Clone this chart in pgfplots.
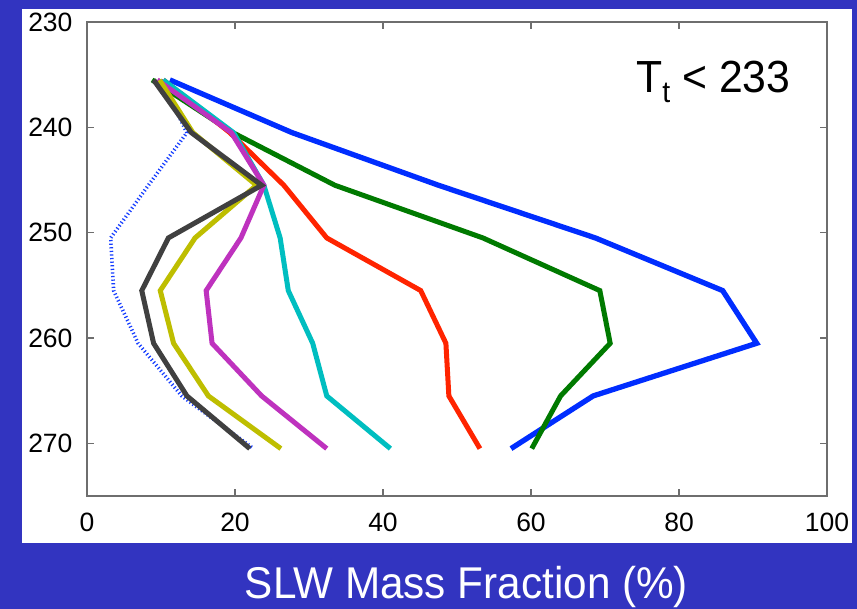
\documentclass[border=0pt]{standalone}
\usepackage{fontspec}
\setmainfont{Liberation Sans}
\newfontfamily\bigfont[FakeStretch=0.95]{Liberation Sans}
\usepackage{pgfplots}
\pgfplotsset{compat=1.18}
\definecolor{bgblue}{RGB}{50,52,192}
\definecolor{axisgray}{RGB}{110,110,110}
\definecolor{cblue}{RGB}{0,45,255}
\definecolor{cgreen}{RGB}{0,122,0}
\definecolor{cred}{RGB}{255,36,0}
\definecolor{ccyan}{RGB}{0,190,192}
\definecolor{cmag}{RGB}{190,50,190}
\definecolor{colive}{RGB}{190,190,0}
\definecolor{cdark}{RGB}{64,64,64}
\definecolor{cdot}{RGB}{20,60,255}
\begin{document}
\begin{tikzpicture}
\fill[bgblue] (0,0) rectangle (857pt,609pt);
\fill[white] (22pt,66pt) rectangle (852pt,600pt);
\useasboundingbox (0,0) rectangle (857pt,609pt);
\begin{axis}[
  at={(87pt,113pt)}, anchor=south west,
  width=740pt, height=474pt, scale only axis,
  xmin=0, xmax=100, ymin=230, ymax=275, y dir=reverse,
  xtick={0,20,40,60,80,100}, ytick={230,240,250,260,270},
  tick align=inside, major tick length=7pt,
  axis line style={draw=axisgray, line width=1.1pt},
  every tick/.style={draw=axisgray, line width=1.1pt},
  tick label style={font=\fontsize{26.5}{30}\selectfont, text=black},
  /pgf/number format/assume math mode=true,
  /pgf/number format/1000 sep={},
  xticklabel style={yshift=-13pt},
  yticklabel style={xshift=-11pt},
  clip=false,
  every axis plot/.append style={line join=miter, miter limit=3},
]
\addplot[cdot, line width=3.6pt, dash pattern=on 1.2pt off 2.4pt] coordinates {
(10.0,235.5) (13.5,240.5) (8.3,245.5) (3.2,250.5) (3.6,255.5) (6.9,260.5) (12.8,265.5) (22.5,270.5)};
\addplot[cblue, line width=5.3pt] coordinates {
(11.2,235.5) (27.7,240.5) (47.5,245.5) (68.7,250.5) (85.9,255.5) (90.5,260.5) (68.4,265.5) (57.3,270.5)};
\addplot[cgreen, line width=5pt] coordinates {
(8.8,235.5) (19.7,240.5) (33.5,245.5) (53.5,250.5) (69.3,255.5) (70.7,260.5) (64.0,265.5) (60.1,270.5)};
\addplot[cred, line width=5pt] coordinates {
(10.3,235.5) (19.3,240.5) (26.6,245.5) (32.4,250.5) (45.1,255.5) (48.5,260.5) (48.9,265.5) (53.1,270.5)};
\addplot[ccyan, line width=5pt] coordinates {
(10.3,235.5) (19.8,240.5) (23.9,245.5) (26.1,250.5) (27.2,255.5) (30.5,260.5) (32.4,265.5) (41.0,270.5)};
\addplot[cmag, line width=5pt] coordinates {
(9.5,235.5) (19.5,240.5) (23.9,245.5) (20.8,250.5) (16.1,255.5) (16.9,260.5) (23.6,265.5) (32.4,270.5)};
\addplot[colive, line width=5pt] coordinates {
(9.8,235.5) (14.3,240.5) (22.9,245.5) (14.6,250.5) (9.9,255.5) (11.7,260.5) (16.4,265.5) (26.2,270.5)};
\addplot[cdark, line width=5pt] coordinates {
(9.0,235.5) (14.1,240.5) (23.6,245.5) (11.0,250.5) (7.4,255.5) (9.0,260.5) (13.5,265.5) (22.0,270.5)};
\node[anchor=base west, inner sep=0pt, font=\bigfont\fontsize{45}{50}\selectfont] at (axis cs:74.2,236.7)
  {T\raisebox{-10pt}{\fontsize{30}{34}\selectfont t} {<} 233};
\end{axis}
\node[anchor=base, inner sep=0pt, text=white, font=\bigfont\fontsize{44.5}{50}\selectfont] at (466.5pt,10pt) {SLW Mass Fraction (\%)};
\end{tikzpicture}
\end{document}
